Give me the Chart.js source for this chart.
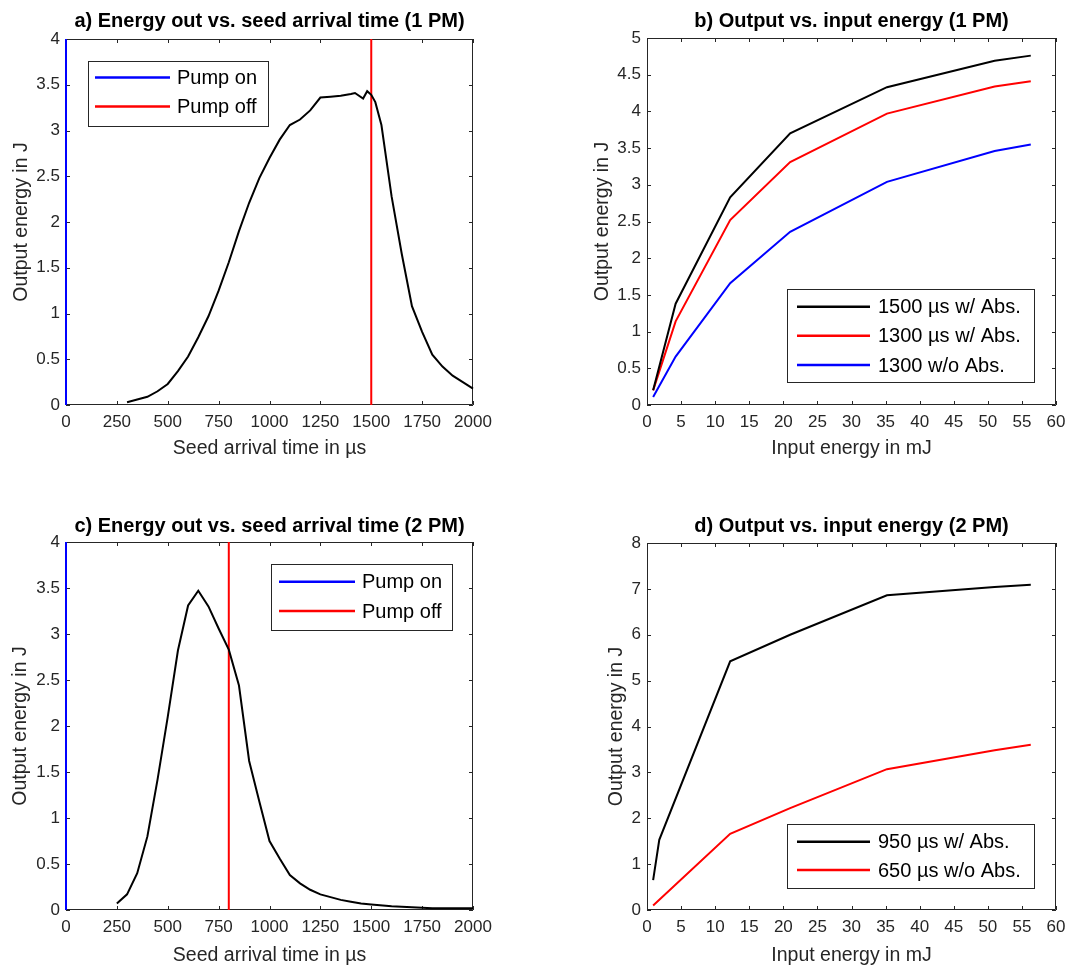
<!DOCTYPE html>
<html>
<head>
<meta charset="utf-8">
<title>Seed timing and input energy scans</title>
<script src="https://cdn.jsdelivr.net/npm/chart.js@4.4.1/dist/chart.umd.min.js"></script>
<style>
  html, body { margin: 0; padding: 0; background: #ffffff; }
  #figure { position: relative; width: 1089px; height: 967px; overflow: hidden; background: #ffffff; }
  #figure canvas { position: absolute; }
</style>
</head>
<body>
<div id="figure">
  <canvas id="panelA" width="545" height="480" style="left:0px;top:0px;"></canvas>
  <canvas id="panelB" width="544" height="480" style="left:545px;top:0px;"></canvas>
  <canvas id="panelC" width="545" height="487" style="left:0px;top:480px;"></canvas>
  <canvas id="panelD" width="544" height="487" style="left:545px;top:480px;"></canvas>
</div>
<script>
// ---- a) one pump module: output energy vs. seed arrival time ----
const seedTime1PM = [300, 350, 400, 450, 500, 550, 600, 650, 700, 750, 800, 850, 900, 950,
  1000, 1050, 1100, 1150, 1200, 1250, 1300, 1350, 1400, 1420, 1460, 1480, 1500, 1520,
  1550, 1600, 1650, 1700, 1750, 1800, 1850, 1900, 1950, 2000];
const energyOut1PM = [0.03, 0.06, 0.09, 0.15, 0.23, 0.37, 0.53, 0.74, 0.97, 1.25, 1.56, 1.90, 2.21, 2.48,
  2.70, 2.90, 3.06, 3.12, 3.22, 3.36, 3.37, 3.38, 3.40, 3.41, 3.35, 3.43, 3.39, 3.31,
  3.06, 2.28, 1.65, 1.08, 0.80, 0.55, 0.42, 0.32, 0.25, 0.18];
const pumpOn1PM = 0;
const pumpOff1PM = 1500;

// ---- c) two pump modules: output energy vs. seed arrival time ----
const seedTime2PM = [250, 300, 350, 400, 450, 500, 550, 600, 650, 700, 750, 800, 850, 900, 950,
  1000, 1050, 1100, 1150, 1200, 1250, 1300, 1350, 1400, 1450, 1500, 1600, 1700, 1800, 1900, 2000];
const energyOut2PM = [0.07, 0.17, 0.40, 0.80, 1.42, 2.10, 2.82, 3.31, 3.47, 3.30, 3.06, 2.83, 2.44, 1.62, 1.18,
  0.75, 0.56, 0.38, 0.29, 0.22, 0.17, 0.14, 0.11, 0.09, 0.07, 0.06, 0.04, 0.03, 0.02, 0.02, 0.02];
const pumpOn2PM = 0;
const pumpOff2PM = 800;

// ---- b) one pump module: output vs. input energy ----
const inputEnergy1PM = [0.9, 4.2, 12.2, 21.0, 35.2, 51.0, 56.3];
const out1500usAbs = [0.20, 1.38, 2.83, 3.70, 4.33, 4.69, 4.76];
const out1300usAbs = [0.20, 1.14, 2.52, 3.31, 3.97, 4.34, 4.41];
const out1300NoAbs = [0.11, 0.66, 1.66, 2.36, 3.04, 3.46, 3.55];

// ---- d) two pump modules: output vs. input energy ----
const inputEnergy950us = [0.9, 1.8, 12.2, 21.0, 35.2, 51.0, 56.3];
const out950usAbs = [0.65, 1.53, 5.42, 6.00, 6.86, 7.04, 7.09];
const inputEnergy650us = [0.9, 12.2, 21.0, 35.2, 51.0, 56.3];
const out650usNoAbs = [0.10, 1.66, 2.22, 3.07, 3.48, 3.60];

// ---- tick labels ----
const timeTicks = [0, 250, 500, 750, 1000, 1250, 1500, 1750, 2000];
const energyTicks4 = [0, 0.5, 1, 1.5, 2, 2.5, 3, 3.5, 4];
const inputTicks = [0, 5, 10, 15, 20, 25, 30, 35, 40, 45, 50, 55, 60];
const energyTicks5 = [0, 0.5, 1, 1.5, 2, 2.5, 3, 3.5, 4, 4.5, 5];
const energyTicks8 = [0, 1, 2, 3, 4, 5, 6, 7, 8];

const FONT = '"Liberation Sans", Arial, Helvetica, sans-serif';
const AXIS_GREY = '#262626';
Chart.defaults.font.family = FONT;

// Boxed axes with inward ticks on all four sides, a bold title and a framed legend.
const boxedAxes = {
  id: 'boxedAxes',
  beforeDatasetsDraw(chart) {
    const { ctx, chartArea: a, scales } = chart;
    const len = 4;
    ctx.save();
    ctx.strokeStyle = AXIS_GREY;
    ctx.lineWidth = 1;
    ctx.beginPath();
    ctx.rect(a.left + 0.5, a.top + 0.5, a.right - a.left - 1, a.bottom - a.top - 1);
    scales.x.ticks.forEach(t => {
      const px = Math.round(scales.x.getPixelForValue(t.value)) + 0.5;
      ctx.moveTo(px, a.bottom); ctx.lineTo(px, a.bottom - len);
      ctx.moveTo(px, a.top); ctx.lineTo(px, a.top + len);
    });
    scales.y.ticks.forEach(t => {
      const py = Math.round(scales.y.getPixelForValue(t.value)) + 0.5;
      ctx.moveTo(a.left, py); ctx.lineTo(a.left + len, py);
      ctx.moveTo(a.right, py); ctx.lineTo(a.right - len, py);
    });
    ctx.stroke();
    ctx.restore();
  },
  afterDatasetsDraw(chart, args, opts) {
    const box = opts.legendBox;
    if (!box) return;
    const { ctx } = chart;
    const items = chart.data.datasets.filter(d => d.inLegend);
    ctx.save();
    ctx.fillStyle = '#ffffff';
    ctx.fillRect(box.x, box.y, box.w, box.h);
    ctx.strokeStyle = AXIS_GREY;
    ctx.lineWidth = 1;
    ctx.strokeRect(Math.round(box.x) + 0.5, Math.round(box.y) + 0.5, Math.round(box.w), Math.round(box.h));
    ctx.font = '20px ' + FONT;
    ctx.textAlign = 'left';
    ctx.textBaseline = 'middle';
    items.forEach((d, i) => {
      const y = box.rows[i];
      ctx.strokeStyle = d.borderColor;
      ctx.lineWidth = 2.5;
      ctx.beginPath();
      ctx.moveTo(box.lineX0, y);
      ctx.lineTo(box.lineX1, y);
      ctx.stroke();
      ctx.fillStyle = '#000000';
      ctx.fillText(d.label, box.textX, y + 1);
    });
    ctx.restore();
  },
  afterDraw(chart, args, opts) {
    if (!opts.title) return;
    const { ctx, chartArea: a } = chart;
    ctx.save();
    ctx.font = 'bold 20px ' + FONT;
    ctx.fillStyle = '#000000';
    ctx.textAlign = 'center';
    ctx.textBaseline = 'middle';
    ctx.fillText(opts.title, (a.left + a.right) / 2, opts.titleY);
    ctx.restore();
  }
};

function series(label, xs, ys, color, inLegend) {
  return {
    label: label,
    data: xs.map((x, i) => ({ x: x, y: ys[i] })),
    borderColor: color,
    backgroundColor: color,
    borderWidth: 2,
    pointRadius: 0,
    tension: 0,
    fill: false,
    clip: false,
    inLegend: inLegend
  };
}

function vline(label, xValue, yTop, color) {
  return series(label, [xValue, xValue], [0, yTop], color, true);
}

function panel(canvasId, spec) {
  const el = document.getElementById(canvasId);
  const W = el.width, H = el.height;
  const tickFont = { size: 17 };
  const titleFont = { size: 19.5 };
  return new Chart(el, {
    type: 'line',
    data: { datasets: spec.datasets },
    options: {
      responsive: false,
      animation: false,
      events: [],
      layout: { padding: { left: 0, top: spec.area.top, right: W - spec.area.right, bottom: 0 } },
      scales: {
        x: {
          type: 'linear',
          min: spec.xTicks[0],
          max: spec.xTicks[spec.xTicks.length - 1],
          afterBuildTicks: s => { s.ticks = spec.xTicks.map(v => ({ value: v })); },
          afterFit: s => { s.height = H - spec.area.bottom; },
          grid: { display: false, drawTicks: false },
          border: { display: false },
          ticks: { autoSkip: false, maxRotation: 0, padding: 7, color: AXIS_GREY, font: tickFont, callback: v => String(v) },
          title: { display: true, text: spec.xTitle, color: AXIS_GREY, font: titleFont, padding: { top: 0, bottom: spec.xTitlePad } }
        },
        y: {
          type: 'linear',
          min: spec.yTicks[0],
          max: spec.yTicks[spec.yTicks.length - 1],
          afterBuildTicks: s => { s.ticks = spec.yTicks.map(v => ({ value: v })); },
          afterFit: s => { s.width = spec.area.left; },
          grid: { display: false, drawTicks: false },
          border: { display: false },
          ticks: { autoSkip: false, padding: 6, color: AXIS_GREY, font: tickFont, callback: v => String(v) },
          title: { display: true, text: 'Output energy in J', color: AXIS_GREY, font: titleFont, padding: { top: spec.yTitlePad, bottom: 0 } }
        }
      },
      plugins: {
        legend: { display: false },
        tooltip: { enabled: false },
        boxedAxes: { title: spec.title, titleY: spec.titleY, legendBox: spec.legend }
      }
    },
    plugins: [boxedAxes]
  });
}

panel('panelA', {
  title: 'a) Energy out vs. seed arrival time (1 PM)',
  titleY: 21,
  area: { left: 66, right: 473, top: 39, bottom: 405 },
  xTicks: timeTicks, yTicks: energyTicks4,
  xTitle: 'Seed arrival time in \u00b5s', xTitlePad: 20, yTitlePad: 10,
  datasets: [
    series('Energy out', seedTime1PM, energyOut1PM, '#000000', false),
    vline('Pump on', pumpOn1PM, 4, '#0000ff'),
    vline('Pump off', pumpOff1PM, 4, '#ff0000')
  ],
  legend: { x: 88, y: 60.5, w: 180, h: 64.5, rows: [77.5, 106.5], lineX0: 95, lineX1: 170, textX: 177 }
});

panel('panelB', {
  title: 'b) Output vs. input energy (1 PM)',
  titleY: 21,
  area: { left: 102, right: 511, top: 38, bottom: 405 },
  xTicks: inputTicks, yTicks: energyTicks5,
  xTitle: 'Input energy in mJ', xTitlePad: 20, yTitlePad: 46,
  datasets: [
    series('1500 \u00b5s w/ Abs.', inputEnergy1PM, out1500usAbs, '#000000', true),
    series('1300 \u00b5s w/ Abs.', inputEnergy1PM, out1300usAbs, '#ff0000', true),
    series('1300 w/o Abs.', inputEnergy1PM, out1300NoAbs, '#0000ff', true)
  ],
  legend: { x: 242, y: 289, w: 247, h: 93, rows: [306.7, 335.7, 365], lineX0: 252, lineX1: 325, textX: 333 }
});

panel('panelC', {
  title: 'c) Energy out vs. seed arrival time (2 PM)',
  titleY: 46.5,
  area: { left: 66, right: 473, top: 62, bottom: 430 },
  xTicks: timeTicks, yTicks: energyTicks4,
  xTitle: 'Seed arrival time in \u00b5s', xTitlePad: 0, yTitlePad: 9,
  datasets: [
    series('Energy out', seedTime2PM, energyOut2PM, '#000000', false),
    vline('Pump on', pumpOn2PM, 4, '#0000ff'),
    vline('Pump off', pumpOff2PM, 4, '#ff0000')
  ],
  legend: { x: 271, y: 83.5, w: 181, h: 66, rows: [101.7, 131], lineX0: 279, lineX1: 355, textX: 362 }
});

panel('panelD', {
  title: 'd) Output vs. input energy (2 PM)',
  titleY: 46.5,
  area: { left: 102, right: 511, top: 63, bottom: 430 },
  xTicks: inputTicks, yTicks: energyTicks8,
  xTitle: 'Input energy in mJ', xTitlePad: 0, yTitlePad: 60,
  datasets: [
    series('950 \u00b5s w/ Abs.', inputEnergy950us, out950usAbs, '#000000', true),
    series('650 \u00b5s w/o Abs.', inputEnergy650us, out650usNoAbs, '#ff0000', true)
  ],
  legend: { x: 242, y: 343.5, w: 247, h: 64, rows: [361.7, 390], lineX0: 252, lineX1: 325, textX: 333 }
});
</script>
</body>
</html>
